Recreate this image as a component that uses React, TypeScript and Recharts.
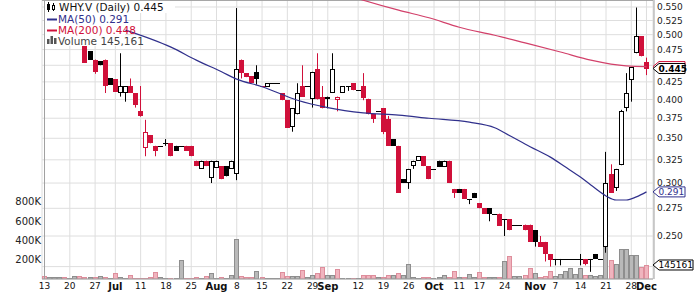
import {
  ComposedChart,
  Bar,
  Line,
  XAxis,
  YAxis,
  CartesianGrid,
  ReferenceLine,
} from "recharts";

const RED = "#d0103a";
const NAVY = "#30308c";
const MA200_RED = "#d2406a";
const FONT = "DejaVu Sans";
const PLOT_RIGHT = 653;

const HOLIDAYS = ["2011-07-01", "2011-08-01", "2011-09-05", "2011-10-10"];

function tradingDays(start: string, count: number) {
  const out: string[] = [];
  const dt = new Date(start + "T12:00:00Z");
  while (out.length < count) {
    const wd = dt.getUTCDay();
    const iso = dt.toISOString().slice(0, 10);
    if (wd !== 0 && wd !== 6 && !HOLIDAYS.includes(iso)) out.push(iso);
    dt.setUTCDate(dt.getUTCDate() + 1);
  }
  return out;
}

const dates = tradingDays("2011-06-13", 120);

const TICK_LABELS: Record<string, string> = {
  "2011-06-13": "13",
  "2011-06-20": "20",
  "2011-06-27": "27",
  "2011-07-04": "Jul",
  "2011-07-11": "11",
  "2011-07-18": "18",
  "2011-07-25": "25",
  "2011-08-02": "Aug",
  "2011-08-08": "8",
  "2011-08-15": "15",
  "2011-08-22": "22",
  "2011-08-29": "29",
  "2011-09-01": "Sep",
  "2011-09-12": "12",
  "2011-09-19": "19",
  "2011-09-26": "26",
  "2011-10-03": "Oct",
  "2011-10-11": "11",
  "2011-10-17": "17",
  "2011-10-24": "24",
  "2011-11-01": "Nov",
  "2011-11-07": "7",
  "2011-11-14": "14",
  "2011-11-21": "21",
  "2011-11-28": "28",
  "2011-12-01": "Dec",
};
const TICK_DATES = Object.keys(TICK_LABELS);
const MONTHS = ["Jul", "Aug", "Sep", "Oct", "Nov", "Dec"];

const N = null;
// first eight sessions sit behind the legend
const opens = [
  N, N, N, N, N, N, N, N, 0.481, 0.472,
  0.459, 0.456, 0.459, 0.43, 0.429, 0.409, 0.409, 0.419, 0.409, 0.384,
  0.338, 0.354, 0.341, 0.341, 0.344, 0.344, 0.341, 0.341, 0.341, 0.341,
  0.324, 0.315, 0.324, 0.305, 0.316, 0.318, 0.318, 0.315, 0.31, 0.459,
  0.438, 0.433, 0.44, 0.419, 0.418, 0.423, 0.423, 0.409, 0.399, 0.364,
  0.38, 0.419, 0.419, 0.4, 0.444, 0.404, 0.4, 0.409, 0.399, 0.409,
  0.419, 0.423, 0.413, 0.419, 0.401, 0.38, 0.384, 0.388, 0.374, 0.349,
  0.341, 0.304, 0.3, 0.318, 0.324, 0.329, 0.318, 0.315, 0.324, 0.317,
  0.324, 0.294, 0.294, 0.294, 0.284, 0.29, 0.28, 0.275, 0.275, 0.27,
  0.27, 0.265, 0.265, 0.26, 0.26, 0.26, 0.26, 0.255, 0.245, 0.245,
  0.235, 0.231, 0.231, 0.231, 0.231, 0.231, 0.231, 0.231, 0.231, 0.235,
  0.231, 0.241, 0.31, 0.295, 0.319, 0.388, 0.428, 0.469, 0.497, 0.455,
];
const highs = [
  N, N, N, N, N, N, N, N, 0.481, 0.472,
  0.459, 0.456, 0.459, 0.43, 0.429, 0.469, 0.419, 0.43, 0.409, 0.419,
  0.373, 0.354, 0.341, 0.341, 0.349, 0.344, 0.341, 0.341, 0.341, 0.341,
  0.324, 0.324, 0.324, 0.324, 0.324, 0.318, 0.318, 0.324, 0.548, 0.459,
  0.438, 0.433, 0.45, 0.419, 0.423, 0.423, 0.423, 0.409, 0.399, 0.388,
  0.423, 0.45, 0.419, 0.44, 0.469, 0.419, 0.404, 0.469, 0.404, 0.419,
  0.419, 0.423, 0.413, 0.438, 0.401, 0.38, 0.384, 0.388, 0.378, 0.349,
  0.341, 0.304, 0.315, 0.324, 0.329, 0.329, 0.318, 0.315, 0.324, 0.324,
  0.324, 0.294, 0.294, 0.294, 0.284, 0.29, 0.28, 0.275, 0.275, 0.27,
  0.27, 0.265, 0.265, 0.26, 0.26, 0.26, 0.26, 0.255, 0.25, 0.245,
  0.235, 0.231, 0.231, 0.231, 0.231, 0.231, 0.235, 0.231, 0.231, 0.235,
  0.231, 0.334, 0.32, 0.315, 0.386, 0.438, 0.447, 0.549, 0.497, 0.462,
];
const lows = [
  N, N, N, N, N, N, N, N, 0.454, 0.459,
  0.437, 0.45, 0.409, 0.421, 0.411, 0.404, 0.397, 0.409, 0.389, 0.377,
  0.329, 0.344, 0.329, 0.341, 0.341, 0.329, 0.335, 0.341, 0.335, 0.329,
  0.318, 0.315, 0.318, 0.3, 0.316, 0.304, 0.307, 0.315, 0.303, 0.43,
  0.432, 0.423, 0.421, 0.419, 0.418, 0.423, 0.423, 0.399, 0.363, 0.358,
  0.38, 0.404, 0.419, 0.389, 0.4, 0.388, 0.388, 0.409, 0.384, 0.409,
  0.412, 0.413, 0.413, 0.399, 0.38, 0.369, 0.384, 0.355, 0.341, 0.341,
  0.29, 0.3, 0.294, 0.315, 0.324, 0.318, 0.304, 0.315, 0.317, 0.317,
  0.3, 0.285, 0.29, 0.284, 0.279, 0.285, 0.275, 0.27, 0.263, 0.27,
  0.259, 0.25, 0.255, 0.26, 0.26, 0.255, 0.245, 0.241, 0.241, 0.229,
  0.225, 0.226, 0.226, 0.231, 0.231, 0.231, 0.226, 0.226, 0.221, 0.231,
  0.231, 0.236, 0.29, 0.292, 0.319, 0.384, 0.397, 0.469, 0.464, 0.435,
];
const closes = [
  N, N, N, N, N, N, N, N, 0.454, 0.459,
  0.44, 0.45, 0.419, 0.421, 0.411, 0.419, 0.419, 0.409, 0.393, 0.378,
  0.358, 0.344, 0.335, 0.341, 0.344, 0.329, 0.335, 0.341, 0.335, 0.329,
  0.318, 0.324, 0.318, 0.324, 0.324, 0.304, 0.307, 0.324, 0.444, 0.438,
  0.432, 0.423, 0.429, 0.419, 0.423, 0.423, 0.423, 0.399, 0.363, 0.388,
  0.409, 0.404, 0.419, 0.44, 0.4, 0.388, 0.404, 0.444, 0.404, 0.419,
  0.419, 0.413, 0.413, 0.402, 0.38, 0.374, 0.384, 0.358, 0.341, 0.341,
  0.29, 0.3, 0.315, 0.324, 0.329, 0.318, 0.304, 0.315, 0.317, 0.324,
  0.3, 0.29, 0.29, 0.284, 0.284, 0.285, 0.275, 0.27, 0.27, 0.27,
  0.259, 0.265, 0.255, 0.26, 0.26, 0.255, 0.245, 0.245, 0.241, 0.235,
  0.23, 0.231, 0.231, 0.231, 0.231, 0.231, 0.231, 0.227, 0.231, 0.231,
  0.231, 0.3, 0.29, 0.315, 0.385, 0.409, 0.447, 0.497, 0.464, 0.445,
];
const volumes = [
  34000, 20000, 20000, 20000, 25000, 10000, 35000, 30000, 25000, 20000,
  25000, 30000, 20000, 15000, 58000, 20000, 10000, 45000, 15000, 10000,
  10000, 25000, 68000, 20000, 10000, 10000, 10000, 200000, 15000, 10000,
  20000, 10000, 30000, 65000, 15000, 25000, 10000, 45000, 415000, 34000,
  25000, 20000, 80000, 20000, 15000, 10000, 10000, 70000, 30000, 35000,
  35000, 95000, 20000, 40000, 58000, 128000, 45000, 40000, 103000, 15000,
  15000, 15000, 10000, 45000, 45000, 45000, 25000, 20000, 40000, 40000,
  65000, 40000, 155000, 25000, 15000, 25000, 20000, 15000, 25000, 40000,
  20000, 85000, 17000, 20000, 50000, 20000, 70000, 20000, 17000, 20000,
  20000, 190000, 240000, 35000, 30000, 45000, 115000, 65000, 17000, 35000,
  80000, 30000, 50000, 80000, 115000, 50000, 110000, 40000, 40000, 35000,
  45000, 795000, 200000, 155000, 310000, 310000, 250000, 245000, 120000, 145161,
];
// up/down colouring of the sessions hidden behind the legend
const earlyDown = [true, false, false, false, true, false, false, true, true];

const MA50_POINTS: [number, number][] = [
  [16, 0.508], [25, 0.479], [30, 0.458], [35, 0.44], [38, 0.429], [43, 0.418],
  [50, 0.399], [56, 0.389], [63, 0.382], [70, 0.379], [76, 0.375], [84, 0.37],
  [89, 0.363], [92, 0.353], [96, 0.34], [100, 0.328], [103, 0.317], [106, 0.306],
  [108, 0.298], [111, 0.287], [113, 0.283], [115, 0.283], [117, 0.286], [119, 0.291],
];
const MA200_POINTS: [number, number][] = [
  [62, 0.566], [63, 0.563], [70, 0.544], [76, 0.53], [82, 0.513], [89, 0.499],
  [95, 0.486], [102, 0.471], [108, 0.458], [115, 0.449], [119, 0.448],
];

const PRICE_TICKS = [0.225, 0.25, 0.275, 0.3, 0.325, 0.35, 0.375, 0.4, 0.425, 0.45, 0.475, 0.5, 0.525, 0.55];
const PRICE_HIDDEN = [0.225, 0.45];
const VALUE_TICKS = [0.448, 0.445, 0.291];
const VOL_LAST = [145161];
const VOL_TICKS = [200000, 400000, 600000, 800000];
const PRICE_DOMAIN = [0.2156, 0.5634];
const VOL_DOMAIN = [0, 2891000];

const ma50 = new Map(MA50_POINTS);
const ma200 = new Map(MA200_POINTS);

const rows = dates.map((d, i) => {
  const o = opens[i];
  const c = closes[i];
  const prev = i > 0 ? closes[i - 1] : null;
  const down = i < earlyDown.length ? earlyDown[i] : prev != null && c != null && c < prev;
  return {
    d,
    o,
    h: highs[i],
    l: lows[i],
    c,
    range: o == null ? null : [lows[i], highs[i]],
    vol: volumes[i],
    down,
    ma50: ma50.get(i) ?? null,
    ma200: ma200.get(i) ?? null,
  };
});

function Candle(props: any) {
  const { x, y, width, height, payload } = props;
  if (!payload || payload.o == null) return null;
  const { o, h, l, c, down } = payload;
  const top = Math.min(y, y + height);
  const span = Math.abs(height);
  const lh = Math.log(h);
  const ll = Math.log(l);
  const yOf = (v: number) => (lh === ll ? top : top + (span * (lh - Math.log(v))) / (lh - ll));
  const left = Math.round(x + width / 2 - 2.5);
  const cx = left + 2.5;
  const color = down ? RED : "#000";
  const yo = Math.round(yOf(o));
  const yc = Math.round(yOf(c));
  return (
    <g>
      {span > 0.5 && <line x1={cx} x2={cx} y1={top} y2={top + span} stroke={color} strokeWidth={1} />}
      {o === c ? (
        <line x1={left} x2={left + 5} y1={yo + 0.5} y2={yo + 0.5} stroke={color} strokeWidth={1} />
      ) : c > o ? (
        <rect x={left + 0.5} y={yc + 0.5} width={4} height={Math.max(yo - yc - 1, 1)} fill="#fff" stroke={color} strokeWidth={1} />
      ) : (
        <rect x={left} y={yo} width={5} height={Math.max(yc - yo, 1)} fill={color} />
      )}
    </g>
  );
}

function VolBar(props: any) {
  const { x, y, width, height, payload } = props;
  if (!payload) return null;
  const left = Math.round(x + width / 2 - 2.5);
  const top = Math.round(y);
  const bottom = Math.round(y + height);
  return (
    <rect
      x={left + 0.5}
      y={top + 0.5}
      width={4}
      height={Math.max(bottom - top - 0.5, 0.5)}
      fill={payload.down ? "#f0b4be" : "#b9b9b9"}
      stroke={payload.down ? "#de8e9c" : "#8e8e8e"}
      strokeWidth={1}
    />
  );
}

function XTick({ x, y, payload }: any) {
  const lab = TICK_LABELS[payload.value];
  const bold = MONTHS.includes(lab);
  return (
    <text x={x} y={y} dy={bold ? 10.5 : 10} textAnchor="middle" fontSize={bold ? 10 : 9} fontWeight={bold ? "bold" : "normal"} fontFamily={FONT} fill="#111">
      {lab}
    </text>
  );
}

function PriceTick({ y, payload }: any) {
  if (PRICE_HIDDEN.includes(payload.value)) return null;
  return (
    <text x={PLOT_RIGHT + 4} y={y} dy="0.35em" textAnchor="start" fontSize={9} fontFamily={FONT} fill="#222">
      {payload.value.toFixed(3)}
    </text>
  );
}

function VolTick({ x, y, payload }: any) {
  return (
    <text x={x} y={y} dy="0.35em" textAnchor="end" fontSize={10} fontFamily={FONT} fill="#222">
      {payload.value / 1000 + "K"}
    </text>
  );
}

function boxPath(x: number, y: number, w: number) {
  return `M${x},${y} L${x + 6},${y - 5} L${x + w},${y - 5} L${x + w},${y + 5} L${x + 6},${y + 5} Z`;
}

function ValueTick({ y, payload }: any) {
  const v = payload.value;
  const x = PLOT_RIGHT;
  // the MA(200) box sits behind the last-price box, only its rim shows
  if (v === 0.448) return <path d={boxPath(x, y, 32)} fill="#fff" stroke={RED} strokeWidth={1} />;
  const last = v === 0.445;
  const col = last ? "#000" : NAVY;
  return (
    <g>
      <path d={boxPath(x, y, 32)} fill="#fff" stroke={col} strokeWidth={1} />
      <text x={x + 5.5} y={y} dy="0.35em" fontSize={9} fontWeight={last ? "bold" : "normal"} fontFamily={FONT} fill={col}>
        {v.toFixed(3)}
      </text>
    </g>
  );
}

function VolValueTick({ y, payload }: any) {
  const x = PLOT_RIGHT;
  return (
    <g>
      <path d={boxPath(x, y, 40)} fill="#fff" stroke="#000" strokeWidth={1} />
      <text x={x + 5.5} y={y} dy="0.35em" fontSize={9} fontFamily={FONT} fill="#000">
        {payload.value}
      </text>
    </g>
  );
}

function Legend() {
  return (
    <svg width={700} height={293} style={{ position: "absolute", left: 0, top: 0, pointerEvents: "none" }}>
      <rect x={45} y={1} width={80} height={45} fill="#fff" />
      <rect x={45} y={1} width={130} height={12} fill="#fff" />
      <line x1={48.5} x2={48.5} y1={2} y2={12} stroke="#000" />
      <rect x={47} y={4} width={3} height={6} fill="#000" />
      <line x1={53.5} x2={53.5} y1={3} y2={11} stroke="#000" />
      <rect x={52.5} y={5.5} width={2} height={4} fill="#fff" stroke="#000" />
      <text x={59} y={11.3} fontSize={10.5} fontFamily={FONT} fill="#111">WHY.V (Daily) 0.445</text>
      <line x1={47} x2={57} y1={19.5} y2={19.5} stroke={NAVY} strokeWidth={2} />
      <text x={58} y={22.8} fontSize={10.5} fontFamily={FONT} fill={NAVY}>MA(50) 0.291</text>
      <line x1={47} x2={57} y1={30.5} y2={30.5} stroke={RED} strokeWidth={2} />
      <text x={58} y={33.8} fontSize={10.5} fontFamily={FONT} fill={RED}>MA(200) 0.448</text>
      <rect x={47} y={39} width={2.5} height={5} fill="#555" />
      <rect x={50.5} y={36} width={2.5} height={8} fill="#555" />
      <rect x={54} y={38} width={2.5} height={6} fill="#555" />
      <text x={58} y={44.6} fontSize={10.5} fontFamily={FONT} fill="#444">Volume 145,161</text>
    </svg>
  );
}

export default function App() {
  return (
    <div style={{ position: "absolute", left: 0, top: 0, width: 700, height: 293, background: "#fff" }}>
      <ComposedChart
        width={700}
        height={293}
        data={rows}
        margin={{ top: 0, right: 0, bottom: 0, left: 0 }}
        barCategoryGap={0}
        barGap={0}
      >
        <CartesianGrid xAxisId="p" yAxisId="price" stroke="#dedede" strokeWidth={1} />
        <XAxis
          xAxisId="p"
          dataKey="d"
          ticks={TICK_DATES}
          interval={0}
          tick={<XTick />}
          tickLine={false}
          tickSize={0}
          tickMargin={0}
          axisLine={{ stroke: "#a0a0a0" }}
          height={14}
          padding={{ left: 0, right: 4 }}
        />
        <XAxis xAxisId="v" dataKey="d" hide padding={{ left: 0, right: 4 }} />
        <YAxis
          yAxisId="vol"
          orientation="left"
          width={42}
          domain={VOL_DOMAIN}
          ticks={VOL_TICKS}
          interval={0}
          allowDataOverflow
          axisLine={false}
          tickLine={false}
          tickSize={0}
          tickMargin={1}
          tick={<VolTick />}
        />
        <YAxis
          yAxisId="price"
          orientation="right"
          width={45}
          scale="log"
          domain={PRICE_DOMAIN}
          ticks={PRICE_TICKS}
          interval={0}
          allowDataOverflow
          axisLine={{ stroke: "#a0a0a0" }}
          tickLine={false}
          tickSize={0}
          tickMargin={4}
          tick={<PriceTick />}
        />
        <YAxis
          yAxisId="lab"
          orientation="right"
          width={1}
          scale="log"
          domain={PRICE_DOMAIN}
          ticks={VALUE_TICKS}
          interval={0}
          allowDataOverflow
          axisLine={false}
          tickLine={false}
          tickSize={0}
          tickMargin={0}
          tick={<ValueTick />}
        />
        <YAxis
          yAxisId="vlab"
          orientation="right"
          width={1}
          domain={VOL_DOMAIN}
          ticks={VOL_LAST}
          interval={0}
          allowDataOverflow
          axisLine={false}
          tickLine={false}
          tickSize={0}
          tickMargin={0}
          tick={<VolValueTick />}
        />
        <ReferenceLine xAxisId="p" yAxisId="price" x={dates[0]} stroke="#a0a0a0" />
        <ReferenceLine xAxisId="p" yAxisId="price" y={0.5626} stroke="#a0a0a0" />
        <Bar xAxisId="v" yAxisId="vol" dataKey="vol" shape={<VolBar />} isAnimationActive={false} />
        <Line
          xAxisId="p"
          yAxisId="price"
          dataKey="ma200"
          type="monotone"
          stroke={MA200_RED}
          strokeWidth={1.2}
          dot={false}
          connectNulls
          isAnimationActive={false}
        />
        <Line
          xAxisId="p"
          yAxisId="price"
          dataKey="ma50"
          type="monotone"
          stroke={NAVY}
          strokeWidth={1.2}
          dot={false}
          connectNulls
          isAnimationActive={false}
        />
        <Bar xAxisId="p" yAxisId="price" dataKey="range" shape={<Candle />} isAnimationActive={false} />
      </ComposedChart>
      <Legend />
    </div>
  );
}
